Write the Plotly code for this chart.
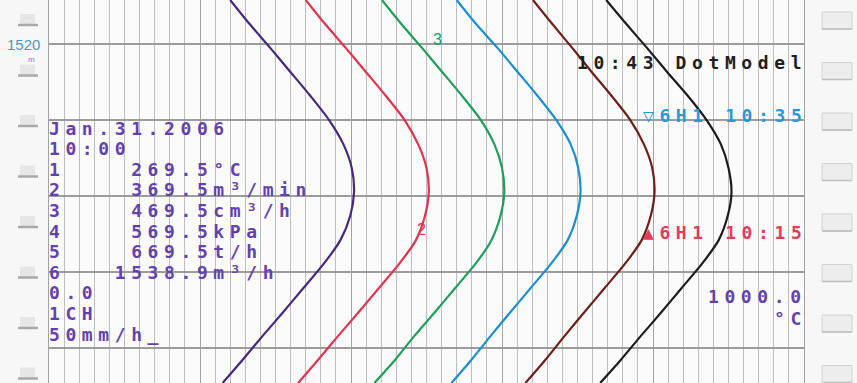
import plotly.graph_objects as go

W, H = 857, 383

# position along the paper, in grid divisions (0 = lowest printed line)
chart_pos = [4.58, 4.26, 3.95, 3.63, 3.32, 3.00, 2.68, 2.37, 2.05,
             1.74, 1.42, 1.11, 0.79, 0.47, 0.16, -0.16, -0.46]

pen1 = [240, 266, 293, 320, 346, 371, 390, 401, 404, 399, 386, 364, 337, 310, 283, 256, 230]
pen2 = [340, 366, 393, 420, 446, 471, 489, 500, 503, 498, 486, 464, 437, 410, 383, 356, 330]
pen3 = [441, 467, 494, 521, 547, 572, 590, 600, 603, 598, 586, 565, 538, 511, 484, 458, 431]
pen4 = [540, 566, 594, 621, 647, 672, 691, 701, 704, 699, 687, 665, 638, 611, 585, 559, 533]
pen5 = [641, 667, 693, 719, 745, 770, 788, 799, 802, 797, 785, 763, 736, 709, 683, 657, 631]
pen6 = [738, 765, 792, 819, 846, 871, 890, 900, 904, 899, 887, 865, 838, 811, 784, 757, 730]

pens = [pen1, pen2, pen3, pen4, pen5, pen6]
pen_colors = ['#46287f', '#e3334c', '#1f9e5c', '#1b8fd2', '#6e1f18', '#1c1c1c']

header_lines = ["Jan.31.2006", "10:00", "1    269.5°C", "2    369.5m³/min",
                "3    469.5cm³/h", "4    569.5kPa", "5    669.5t/h",
                "6   1538.9m³/h", "0.0", "1CH", "50mm/h_"]

MONO = "DejaVu Sans Mono"
TXT_PURPLE = '#6441ad'


def dot_text(s, spacing=5.6):
    s = s.replace(' ', '\u00a0')
    return f'<span style="letter-spacing:{spacing}px">{s}</span>'


def px(x):
    return x / W


def py(y):
    return 1 - y / H


fig = go.Figure()

for vals, col in zip(pens, pen_colors):
    fig.add_trace(go.Scatter(
        x=vals, y=chart_pos, mode='lines',
        line=dict(color=col, width=2.2, shape='spline', smoothing=0.7),
        hoverinfo='skip', showlegend=False,
    ))

# printed header block on the left
for i, line in enumerate(header_lines):
    fig.add_annotation(
        x=px(47), y=py(128 + i * 20.6), xref='paper', yref='paper',
        text=dot_text(line), showarrow=False, xanchor='left', yanchor='middle',
        font=dict(family=MONO, size=18, color=TXT_PURPLE, weight='bold'),
    )

# messages on the right
right_msgs = [
    ("10:43 DotModel", 62, '#1e1e1e'),
    ("▽6H1 10:35", 116, '#2a98d8'),
    ("▲6H1 10:15", 232, '#e63a56'),
    ("1000.0", 296, TXT_PURPLE),
    ("°C", 318, TXT_PURPLE),
]
for txt, y, col in right_msgs:
    fig.add_annotation(
        x=px(809), y=py(y), xref='paper', yref='paper',
        text=dot_text(txt), showarrow=False, xanchor='right', yanchor='middle',
        font=dict(family=MONO, size=18, color=col, weight='bold'),
    )

# pen numbers
fig.add_annotation(x=px(421), y=py(229), xref='paper', yref='paper', text="2",
                   showarrow=False, xanchor='center', yanchor='middle',
                   font=dict(family="Liberation Sans", size=16, color='#e3334c'))
fig.add_annotation(x=px(438), y=py(40), xref='paper', yref='paper', text="3",
                   showarrow=False, xanchor='center', yanchor='middle',
                   font=dict(family="Liberation Sans", size=16, color='#1f9e5c'))

# chart length marker in the margin
fig.add_annotation(x=px(23), y=py(44), xref='paper', yref='paper', text="1520",
                   showarrow=False, xanchor='center', yanchor='middle',
                   font=dict(family="Liberation Sans Narrow, Liberation Sans", size=15, color='#4a93cf'))
fig.add_annotation(x=px(32), y=py(59), xref='paper', yref='paper', text="m",
                   showarrow=False, xanchor='center', yanchor='middle',
                   font=dict(family="Liberation Sans", size=8, color='#4a93cf'))

# sprocket tabs
shapes = []
for c in [20, 70.5, 121, 171.5, 222, 272.5, 323, 373.5]:
    shapes.append(dict(type='rect', xref='paper', yref='paper',
                       x0=px(20), x1=px(35), y0=py(c + 4), y1=py(c - 6),
                       fillcolor='#e6e6e6', line=dict(width=0), layer='below'))
    shapes.append(dict(type='line', xref='paper', yref='paper',
                       x0=px(18), x1=px(38), y0=py(c + 5), y1=py(c + 5),
                       line=dict(color='#a9a9a9', width=2.5), layer='below'))
    shapes.append(dict(type='rect', xref='paper', yref='paper',
                       x0=px(822), x1=px(852), y0=py(c + 9), y1=py(c - 8),
                       fillcolor='#ededed', line=dict(color='#d2d2d2', width=1), layer='below'))
    shapes.append(dict(type='line', xref='paper', yref='paper',
                       x0=px(822), x1=px(852), y0=py(c + 9), y1=py(c + 9),
                       line=dict(color='#bdbdbd', width=1.5), layer='below'))

fig.update_layout(
    width=W, height=H,
    margin=dict(l=0, r=0, t=0, b=0),
    paper_bgcolor='#f7f7f7',
    plot_bgcolor='#fbfbfb',
    showlegend=False,
    shapes=shapes,
    xaxis=dict(
        domain=[49 / W, 804 / W], range=[0, 1000],
        tick0=0, dtick=200, showticklabels=False, ticks='',
        showgrid=True, gridcolor='#a2a2a2', gridwidth=1.3, zeroline=False,
        minor=dict(dtick=20, showgrid=True, gridcolor='#bdbdbd', gridwidth=1),
    ),
    yaxis=dict(
        range=[-0.46, 4.58], tick0=0, dtick=1,
        showticklabels=False, ticks='',
        showgrid=True, gridcolor='#9c9c9c', gridwidth=1.5, zeroline=False,
        showline=True, mirror=True, linecolor='#a2a2a2', linewidth=1.3,
    ),
)

fig.write_html("out.html", config={'displayModeBar': False},
               post_script="document.body.style.margin='0';")
